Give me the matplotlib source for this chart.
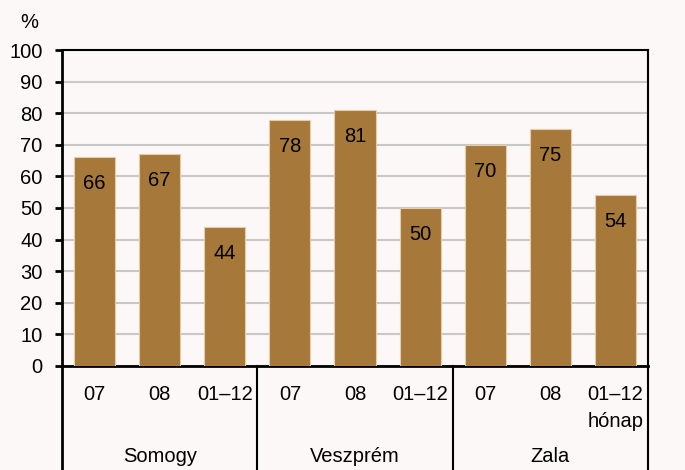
import matplotlib.pyplot as plt

plt.rcParams['font.family'] = ['Liberation Sans', 'DejaVu Sans']

counties = ["Somogy", "Veszprém", "Zala"]
months = ["07", "08", "01–12", "07", "08", "01–12", "07", "08", "01–12"]
values = [66, 67, 44, 78, 81, 50, 70, 75, 54]
unit_note = "hónap"

fs = 14.5
bg = "#FBF8F7"
fig = plt.figure(figsize=(6.85, 4.7), dpi=100, facecolor=bg)
ax = fig.add_axes([0.0905, 0.2213, 0.8555, 0.6723], facecolor=bg)

x = list(range(len(values)))
ax.bar(x, values, width=0.63, color="#A67839", edgecolor="#E6CDA8",
       linewidth=0.8, zorder=3)

for xi, v in zip(x, values):
    ax.annotate(str(v), (xi, v), xytext=(0, -17), textcoords="offset pixels",
                ha="center", va="top", fontsize=fs, zorder=4)

ax.set_xlim(-0.5, len(values) - 0.5)
ax.set_ylim(0, 100)
ax.set_yticks(range(0, 101, 10))
ax.yaxis.grid(True, color="#C8C8C8", linewidth=1.5, zorder=0)
ax.tick_params(axis="y", labelsize=fs, length=5, width=2, direction="out", pad=9)
ax.set_xticks(x)
ax.set_xticklabels(months, fontsize=fs)
ax.tick_params(axis="x", length=0, pad=14)

for s in ax.spines.values():
    s.set_color("black")
    s.set_linewidth(2)
ax.spines["top"].set_linewidth(1.5)
ax.spines["right"].set_linewidth(1.5)

# group dividers below the axis
trans = ax.get_xaxis_transform()
for d in [-0.5, 2.5, 5.5, 8.5]:
    ax.plot([d, d], [0, -0.4], color="black", linewidth=2 if d == -0.5 else 1.5,
            transform=trans, clip_on=False, zorder=5)

ax.text(x[-1], -0.177, unit_note, transform=trans, ha="center", va="center",
        fontsize=fs)

for i, name in enumerate(counties):
    ax.text(3 * i + 1, -0.285, name, transform=trans, ha="center", va="center",
            fontsize=fs)

fig.text(29 / 685, 1 - 22 / 470, "%", ha="center", va="center", fontsize=fs)

fig.savefig("out.png", dpi=100, facecolor=bg)
